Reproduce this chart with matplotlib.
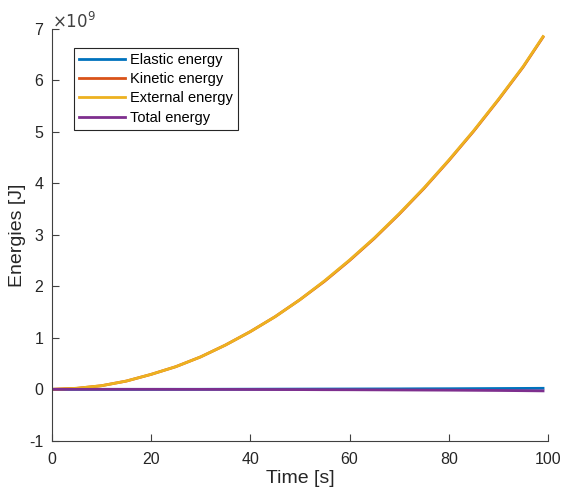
import matplotlib
matplotlib.use("Agg")
import matplotlib.pyplot as plt
import numpy as np

plt.rcParams['font.family'] = ['Liberation Sans', 'DejaVu Sans']

# time samples [s] and energies (in 1e9 J)
time = [0, 5, 10, 15, 20, 25, 30, 35, 40, 45, 50, 55, 60, 65, 70, 75, 80, 85, 90, 95, 99]
external = [0, 0.02, 0.07, 0.16, 0.29, 0.44, 0.63, 0.86, 1.12, 1.41, 1.74, 2.11, 2.51,
            2.94, 3.41, 3.91, 4.45, 5.02, 5.63, 6.27, 6.85]
kinetic = [0, 0.02, 0.07, 0.16, 0.29, 0.44, 0.63, 0.86, 1.12, 1.41, 1.74, 2.10, 2.50,
           2.93, 3.40, 3.90, 4.44, 5.01, 5.62, 6.26, 6.84]
elastic = [0, 0, 0, 0, 0, 0.001, 0.001, 0.002, 0.003, 0.004, 0.005, 0.006, 0.007,
           0.008, 0.009, 0.011, 0.012, 0.014, 0.016, 0.018, 0.02]
total = [0, 0, 0, 0, 0, -0.001, -0.001, -0.002, -0.003, -0.004, -0.005, -0.007, -0.008,
         -0.010, -0.012, -0.014, -0.016, -0.019, -0.022, -0.026, -0.03]

labels = ['Elastic energy', 'Kinetic energy', 'External energy', 'Total energy']
colors = ['#0072BD', '#D95319', '#EDB120', '#7E2F8E']

fig = plt.figure(figsize=(5.88, 4.97), dpi=100)
ax = fig.add_axes([0.088, 0.113, 0.844, 0.829])

scale = 1e9
for y, lab, c in zip([elastic, kinetic, external, total], labels, colors):
    ax.plot(time, np.array(y) * scale, color=c, lw=2, label=lab)

ax.set_xlim(0, 100)
ax.set_ylim(-1e9, 7e9)
ax.set_xticks(np.arange(0, 101, 20))
ax.set_yticks(np.arange(-1, 8, 1) * scale)
ax.set_yticklabels([str(v) for v in range(-1, 8)])
ax.text(0.0, 0.995, r'$\times10^9$', transform=ax.transAxes, fontsize=12,
        color='#404040', va='bottom', ha='left')

for s in ['top', 'right']:
    ax.spines[s].set_visible(False)
for s in ['left', 'bottom']:
    ax.spines[s].set_color('#404040')
    ax.spines[s].set_linewidth(0.8)
ax.tick_params(direction='in', length=5, colors='#404040', labelsize=11.5,
               labelcolor='#262626')
ax.tick_params(axis='x', pad=8)
ax.tick_params(axis='y', pad=6)

ax.set_xlabel('Time [s]', fontsize=14, color='#262626', labelpad=2)
ax.set_ylabel('Energies [J]', fontsize=14, color='#262626', labelpad=2)

leg = ax.legend(loc='upper left', bbox_to_anchor=(0.044, 0.954), borderaxespad=0,
                fontsize=10.5, fancybox=False, edgecolor='#262626', framealpha=1,
                handlelength=3.2, borderpad=0.35, labelspacing=0.36,
                handletextpad=0.3)
leg.get_frame().set_linewidth(0.8)

fig.savefig('out.png', dpi=100)
